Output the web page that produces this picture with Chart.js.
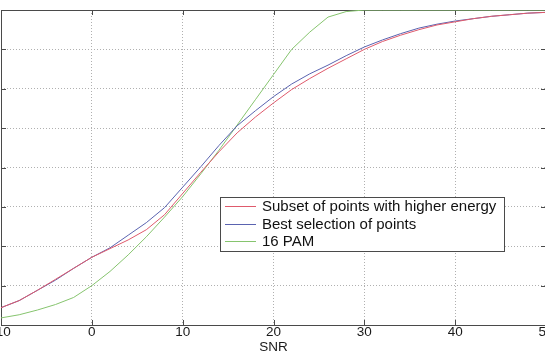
<!DOCTYPE html>
<html><head><meta charset="utf-8">
<script src="https://cdn.jsdelivr.net/npm/chart.js@4/dist/chart.umd.min.js"></script>
<style>
html,body{margin:0;padding:0;background:#fff;overflow:hidden;width:545px;height:351px;}
#wrap{position:absolute;left:-40px;top:0;width:600px;height:362px;}
</style></head><body>
<div id="wrap"><canvas id="c"></canvas></div>
<script>
const snr = [-10,-8,-6,-4,-2,0,2,4,6,8,10,12,14,16,18,20,22,24,26,28,30,32,34,36,38,40,42,44,46,48,50];
const subsetHigherEnergy = [0.22,0.31,0.44,0.58,0.72,0.86,0.97,1.08,1.21,1.40,1.67,1.94,2.20,2.44,2.64,2.82,2.99,3.13,3.26,3.38,3.50,3.60,3.68,3.75,3.81,3.85,3.89,3.92,3.94,3.96,3.97];
const bestSelection = [0.22,0.31,0.44,0.57,0.72,0.86,0.98,1.14,1.30,1.49,1.75,2.01,2.28,2.53,2.72,2.90,3.06,3.19,3.30,3.42,3.53,3.62,3.70,3.77,3.82,3.86,3.89,3.92,3.94,3.96,3.97];
const pam16 = [0.09,0.13,0.19,0.26,0.35,0.50,0.68,0.89,1.12,1.37,1.63,1.92,2.22,2.54,2.86,3.18,3.50,3.72,3.91,3.98,4.0,4.0,4.0,4.0,4.0,4.0,4.0,4.0,4.0,4.0,4.0];
const seriesLabels = ["Subset of points with higher energy","Best selection of points","16 PAM"];
const seriesColors = ["#df5a6c","#5a63b0","#86c46e"];
const xTicks = [-10,0,10,20,30,40,50];
const yTicks = [0,0.5,1,1.5,2,2.5,3,3.5,4];
const xTitle = "SNR";

const toPts = arr => arr.map((v,i)=>({x:snr[i],y:v}));
const FONT = '"Liberation Sans", Arial, Helvetica, sans-serif';

const boxPlugin = {
  id:'box',
  beforeDatasetsDraw(chart){
    const {ctx, chartArea:ca, scales} = chart;
    ctx.save();
    ctx.strokeStyle = '#4a4a4a';
    ctx.lineWidth = 1;
    ctx.setLineDash([]);
    ctx.strokeRect(Math.round(ca.left)+0.5, Math.round(ca.top)+0.5, Math.round(ca.right-ca.left)-1, Math.round(ca.bottom-ca.top));
    ctx.beginPath();
    xTicks.forEach(v=>{
      const px = Math.round(scales.x.getPixelForValue(v))+0.5;
      ctx.moveTo(px, ca.bottom); ctx.lineTo(px, ca.bottom-5);
      ctx.moveTo(px, ca.top); ctx.lineTo(px, ca.top+5);
    });
    yTicks.forEach(v=>{
      const py = Math.round(scales.y.getPixelForValue(v))+0.5;
      ctx.moveTo(ca.left, py); ctx.lineTo(ca.left+5, py);
      ctx.moveTo(ca.right, py); ctx.lineTo(ca.right-5, py);
    });
    ctx.stroke();
    ctx.restore();
  },
  afterDraw(chart){
    const {ctx, chartArea:ca} = chart;
    ctx.save();
    const bx = Math.round(ca.left)+219.5, by = Math.round(ca.top)+187.5, bw = 284, bh = 54;
    ctx.fillStyle = '#fff';
    ctx.fillRect(bx,by,bw,bh);
    ctx.strokeStyle = '#4a4a4a';
    ctx.lineWidth = 1;
    ctx.strokeRect(bx,by,bw,bh);
    const rows = [196,214,231];
    ctx.font = '15px ' + FONT;
    ctx.textBaseline = 'middle';
    chart.data.datasets.forEach((ds,i)=>{
      const y = Math.round(ca.top)+rows[i]+0.5;
      ctx.strokeStyle = ds.borderColor;
      ctx.beginPath();
      ctx.moveTo(ca.left+224, y); ctx.lineTo(ca.left+255, y);
      ctx.stroke();
      ctx.fillStyle = '#111';
      ctx.fillText(ds.label, ca.left+261, y+0.5);
    });
    ctx.restore();
  }
};

new Chart(document.getElementById('c'), {
  type:'line',
  data:{
    datasets:[
      {label:seriesLabels[0], data:toPts(subsetHigherEnergy), borderColor:seriesColors[0]},
      {label:seriesLabels[1], data:toPts(bestSelection), borderColor:seriesColors[1]},
      {label:seriesLabels[2], data:toPts(pam16), borderColor:seriesColors[2]}
    ].map(d=>Object.assign(d,{borderWidth:1,pointRadius:0,tension:0,fill:false}))
  },
  plugins:[boxPlugin],
  options:{
    responsive:true, maintainAspectRatio:false, animation:false, devicePixelRatio:1,
    layout:{padding:{left:41,right:14,top:10,bottom:8}},
    plugins:{legend:{display:false}, tooltip:{enabled:false}},
    scales:{
      x:{type:'linear', min:-10, max:50,
        afterBuildTicks(s){ s.ticks = xTicks.map(v=>({value:v})); },
        ticks:{font:{size:13.5,family:FONT,lineHeight:1}, color:'#1a1a1a', padding:1, maxRotation:0, autoSkip:false},
        grid:{drawTicks:false, color:'#b0b0b0', lineWidth:1},
        border:{display:false, dash:[1,2]},
        title:{display:true, text:xTitle, font:{size:13.5,family:FONT,lineHeight:1}, color:'#1a1a1a', padding:{top:0,bottom:0}}
      },
      y:{type:'linear', min:0, max:4,
        afterBuildTicks(s){ s.ticks = yTicks.map(v=>({value:v})); },
        ticks:{display:false},
        grid:{drawTicks:false, color:'#b0b0b0', lineWidth:1},
        border:{display:false, dash:[1,2]}
      }
    }
  }
});
</script>
</body></html>
